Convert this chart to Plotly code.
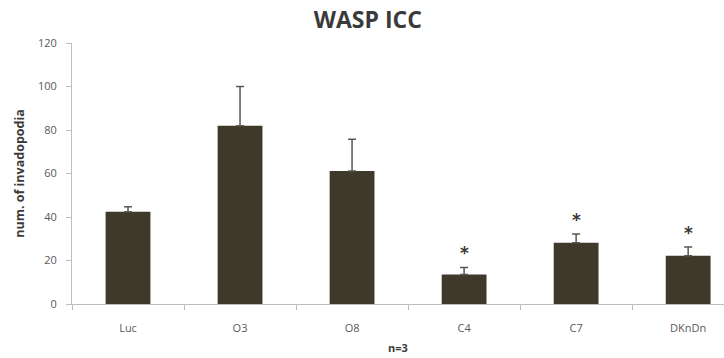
import plotly.graph_objects as go

categories = ["Luc", "O3", "O8", "C4", "C7", "DKnDn"]
values = [42.4, 82.0, 61.1, 13.6, 28.2, 22.2]
errors = [2.3, 18.0, 14.6, 3.2, 4.0, 4.0]
significant = [False, False, False, True, True, True]
y_ticks = [0, 20, 40, 60, 80, 100, 120]

fig = go.Figure()
fig.add_trace(go.Bar(
    x=categories, y=values,
    marker=dict(color="#3e392b", line=dict(width=0)),
    error_y=dict(type="data", array=errors, symmetric=False, arrayminus=[0]*len(errors),
                 color="#5b5849", thickness=1.5, width=4),
    width=0.4,
))

for c, v, e, s in zip(categories, values, errors, significant):
    if s:
        fig.add_annotation(x=c, y=v + e, text="<b>*</b>", showarrow=False,
                           yanchor="middle", yshift=14,
                           font=dict(family="DejaVu Sans", size=17, color="#3a3a3a"))

fig.update_layout(
    width=724, height=358,
    margin=dict(l=72, r=0, t=43, b=54),
    plot_bgcolor="white", paper_bgcolor="white",
    showlegend=False,
    title=dict(text="<b>WASP ICC</b>", x=0.508, xanchor="center", xref="container",
               y=0.944, yanchor="middle", yref="container",
               font=dict(family="Open Sans", size=23, color="#3a3a3a")),
    xaxis=dict(range=[-0.5, 5.32], showline=True, linecolor="#bfbfbf", linewidth=1,
               ticks="outside", tickson="boundaries", ticklen=5, tickcolor="#bfbfbf",
               tickfont=dict(family="Open Sans", size=11, color="#595959"),
               ticklabelstandoff=14, automargin=False,
               title=dict(text="<b>n=3</b>", standoff=10,
                          font=dict(family="Open Sans", size=11, color="#3a3a3a"))),
    yaxis=dict(range=[0, 120], tickvals=y_ticks, showline=True, linecolor="#bfbfbf", linewidth=1,
               ticks="outside", ticklen=5, tickcolor="#bfbfbf", showgrid=False, zeroline=False,
               tickfont=dict(family="Open Sans", size=11, color="#595959"),
               ticklabelstandoff=7, automargin=False,
               title=dict(text="<b>num. of invadopodia</b>", standoff=10,
                          font=dict(family="Open Sans", size=12.5, color="#3a3a3a"))),
)

fig.write_html("out.html", config={"displayModeBar": False},
               post_script="document.body.style.margin='0';")
